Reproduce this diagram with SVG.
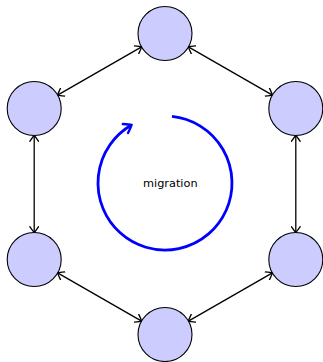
<svg xmlns="http://www.w3.org/2000/svg" width="323" height="362" viewBox="0 0 323 362">
  <style>
    .node circle { fill: #ccccff; stroke: #000; stroke-width: 1.1; }
    .edge { fill: none; stroke: #000; stroke-width: 1.3; marker-start: url(#tip); marker-end: url(#tip); }
    .cycle { fill: none; stroke: #0000ff; stroke-width: 2.8; marker-end: url(#tipBlue); }
    .label { font-family: "DejaVu Sans", "Noto Sans", sans-serif; font-size: 11.3px; fill: #000; text-anchor: middle; }
  </style>
  <defs>
    <!-- curved "to"-style arrow tips -->
    <marker id="tip" viewBox="-7 -5 9 10" markerWidth="9" markerHeight="10" refX="0" refY="0" orient="auto-start-reverse" markerUnits="userSpaceOnUse">
      <path d="M -5.8 -4.4 Q -1.2 -1.2 0 0 Q -1.2 1.2 -5.8 4.4" fill="none" stroke="#000" stroke-width="1.3" stroke-linecap="round"/>
    </marker>
    <marker id="tipBlue" viewBox="-9 -7 11 14" markerWidth="11" markerHeight="14" refX="0" refY="0" orient="auto" markerUnits="userSpaceOnUse">
      <path d="M -7 -5.2 Q -1.5 -1.5 0 0 Q -1.5 1.5 -7 5.2" fill="none" stroke="#0000ff" stroke-width="2.4" stroke-linecap="round"/>
    </marker>
  </defs>

  <g id="connectors">
    <line class="edge" x1="141.6" y1="46.9" x2="57.6" y2="95.1"/>
    <line class="edge" x1="188.4" y1="46.9" x2="272.4" y2="95.1"/>
    <line class="edge" x1="34.2" y1="135.5" x2="34.2" y2="232.5"/>
    <line class="edge" x1="295.8" y1="135.5" x2="295.8" y2="232.5"/>
    <line class="edge" x1="57.6" y1="272.9" x2="141.6" y2="321.1"/>
    <line class="edge" x1="272.4" y1="272.9" x2="188.4" y2="321.1"/>
  </g>

  <g id="n-top" class="node"><circle cx="165" cy="33.5" r="27"/></g>
  <g id="n-upper-left" class="node"><circle cx="34.2" cy="108.5" r="27"/></g>
  <g id="n-lower-left" class="node"><circle cx="34.2" cy="259.5" r="27"/></g>
  <g id="n-bottom" class="node"><circle cx="165" cy="334.5" r="27"/></g>
  <g id="n-lower-right" class="node"><circle cx="295.8" cy="259.5" r="27"/></g>
  <g id="n-upper-right" class="node"><circle cx="295.8" cy="108.5" r="27"/></g>

  <g id="migration">
    <path class="cycle" d="M 172 116.4 A 67 67 0 1 1 131.5 125"/>
    <text class="label" x="170.3" y="186.5">migration</text>
  </g>
</svg>
